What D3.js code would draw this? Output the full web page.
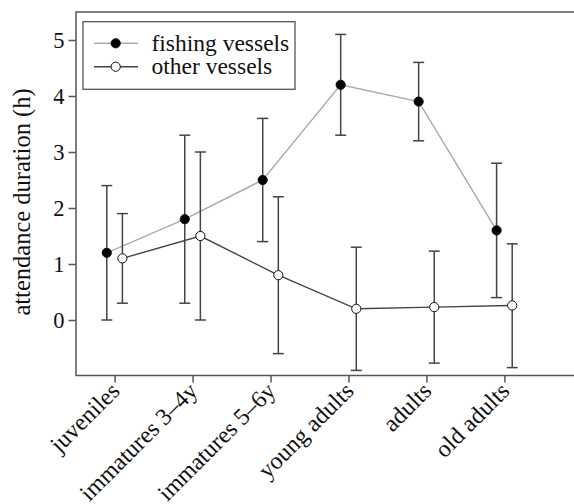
<!DOCTYPE html>
<html>
<head>
<meta charset="utf-8">
<script src="https://cdn.jsdelivr.net/npm/d3@7"></script>
<style>
  body { margin: 0; background: #fff; }
  svg { display: block; }
  svg text { font-family: "Liberation Serif", "Times New Roman", Times, serif; }
</style>
</head>
<body>
<div id="chart"></div>
<script>
// age classes
const categories = ['juveniles', 'immatures 3\u20134y', 'immatures 5\u20136y', 'young adults', 'adults', 'old adults'];

// fishing vessels: mean, lower and upper error bar
const fishingMean = [1.2, 1.8, 2.5, 4.2, 3.9, 1.6];
const fishingLow = [0.0, 0.3, 1.4, 3.3, 3.2, 0.4];
const fishingHigh = [2.4, 3.3, 3.6, 5.1, 4.6, 2.8];

// other vessels
const otherMean = [1.1, 1.5, 0.8, 0.2, 0.23, 0.26];
const otherLow = [0.3, 0.0, -0.6, -0.9, -0.77, -0.85];
const otherHigh = [1.9, 3.0, 2.2, 1.3, 1.23, 1.36];

const yTicks = [0, 1, 2, 3, 4, 5];

const width = 574, height = 504;
const box = { left: 76, top: 12, right: 576, bottom: 375.5 };
const axisColor = '#555';

const svg = d3.select('#chart').append('svg')
    .attr('width', width)
    .attr('height', height);

const y = d3.scaleLinear().domain([0, 5]).range([320, 40]);
const x = d3.scalePoint().domain(categories).range([114.6, 504.4]);
const dodge = 7.8;

// frame
svg.append('rect')
    .attr('x', box.left)
    .attr('y', box.top)
    .attr('width', box.right - box.left)
    .attr('height', box.bottom - box.top)
    .attr('fill', 'none')
    .attr('stroke', axisColor)
    .attr('stroke-width', 1.5);

// y axis
const yAxis = svg.append('g')
    .attr('transform', `translate(${box.left},0)`)
    .call(d3.axisLeft(y).tickValues(yTicks).tickSize(7.5).tickPadding(4).tickFormat(d3.format('d')));
yAxis.select('.domain').remove();
yAxis.attr('font-family', null);
yAxis.selectAll('line').attr('stroke', axisColor).attr('stroke-width', 1.5);
yAxis.selectAll('text')
    .attr('font-size', 22.5)
    .attr('fill', '#111')
    .attr('dy', '0.34em');

// x axis
const xAxis = svg.append('g')
    .attr('transform', `translate(0,${box.bottom})`)
    .call(d3.axisBottom(x).tickSize(7).tickSizeOuter(0));
xAxis.select('.domain').remove();
xAxis.attr('font-family', null);
xAxis.selectAll('line').attr('stroke', axisColor).attr('stroke-width', 1.5);
xAxis.selectAll('text')
    .attr('font-size', 24)
    .attr('fill', '#111')
    .attr('text-anchor', 'end')
    .attr('dy', null)
    .attr('y', 0)
    .attr('transform', 'translate(6,17) rotate(-45)');

// y axis title
svg.append('text')
    .attr('transform', 'translate(30,202) rotate(-90)')
    .attr('text-anchor', 'middle')
    .attr('font-size', 24.5)
    .attr('fill', '#111')
    .text('attendance duration (h)');

function drawSeries(mean, low, high, dx, lineColor, fill) {
    const pts = categories.map((c, i) => ({ c, m: mean[i], lo: low[i], hi: high[i], px: x(c) + dx }));
    const g = svg.append('g');

    g.append('path')
        .datum(pts)
        .attr('fill', 'none')
        .attr('stroke', lineColor)
        .attr('stroke-width', 1.4)
        .attr('d', d3.line().x(d => d.px).y(d => y(d.m)));

    const bars = g.selectAll('g.err').data(pts).enter().append('g').attr('class', 'err')
        .attr('stroke', '#444').attr('stroke-width', 1.5);
    bars.append('line')
        .attr('x1', d => d.px).attr('x2', d => d.px)
        .attr('y1', d => y(d.lo)).attr('y2', d => y(d.hi));
    bars.append('line')
        .attr('x1', d => d.px - 5.5).attr('x2', d => d.px + 5.5)
        .attr('y1', d => y(d.hi)).attr('y2', d => y(d.hi));
    bars.append('line')
        .attr('x1', d => d.px - 5.5).attr('x2', d => d.px + 5.5)
        .attr('y1', d => y(d.lo)).attr('y2', d => y(d.lo));

    g.selectAll('circle').data(pts).enter().append('circle')
        .attr('cx', d => d.px)
        .attr('cy', d => y(d.m))
        .attr('r', 4.6)
        .attr('fill', fill)
        .attr('stroke', '#111')
        .attr('stroke-width', 1);
}

drawSeries(fishingMean, fishingLow, fishingHigh, -dodge, '#aaa', '#000');
drawSeries(otherMean, otherLow, otherHigh, dodge, '#444', '#fff');

// legend
const legend = svg.append('g');
legend.append('rect')
    .attr('x', 83).attr('y', 21.7)
    .attr('width', 212).attr('height', 67.6)
    .attr('fill', '#fff')
    .attr('stroke', axisColor)
    .attr('stroke-width', 1.3);

const legendItems = [
    { label: 'fishing vessels', line: '#aaa', fill: '#000', y: 43.3 },
    { label: 'other vessels', line: '#444', fill: '#fff', y: 66.7 }
];
legendItems.forEach(d => {
    legend.append('line')
        .attr('x1', 94).attr('x2', 138)
        .attr('y1', d.y).attr('y2', d.y)
        .attr('stroke', d.line).attr('stroke-width', 1.4);
    legend.append('circle')
        .attr('cx', 115.7).attr('cy', d.y).attr('r', 4.6)
        .attr('fill', d.fill).attr('stroke', '#111').attr('stroke-width', 1);
    legend.append('text')
        .attr('x', 151.5).attr('y', d.y)
        .attr('dy', '0.32em')
        .attr('font-size', 23.5)
        .attr('fill', '#111')
        .text(d.label);
});
</script>
</body>
</html>
